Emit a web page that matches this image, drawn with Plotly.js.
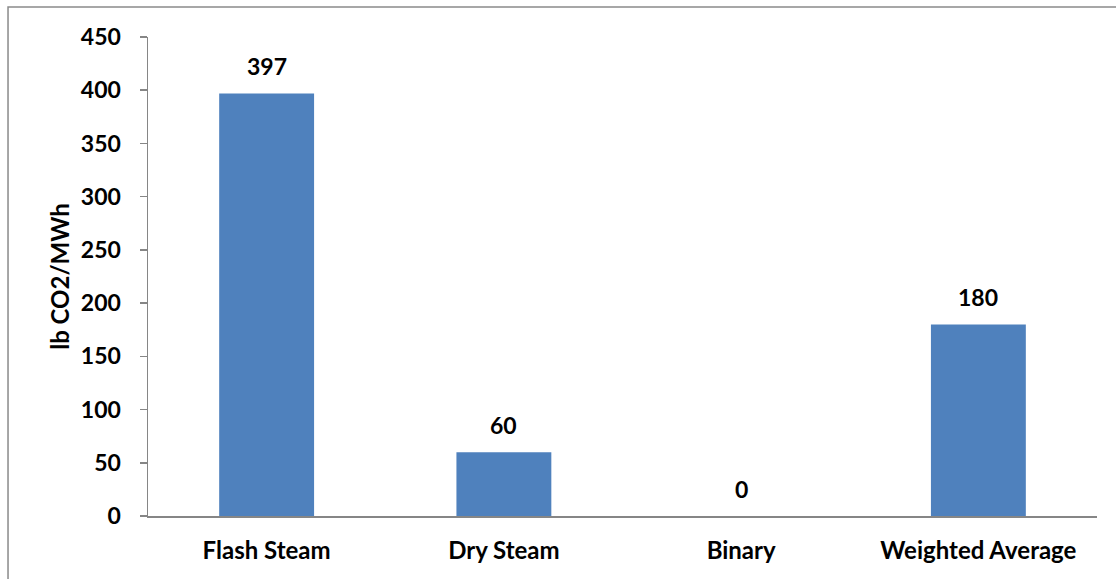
<!DOCTYPE html>
<html>
<head>
<meta charset="utf-8">
<script src="https://cdn.plot.ly/plotly-3.0.1.min.js"></script>
<style>
  html, body { margin: 0; padding: 0; background: #fff; }
  #chart { width: 1116px; height: 579px; }
</style>
</head>
<body>
<div id="chart"></div>
<script>
// CO2 emission rates by geothermal plant type
const categories = ['Flash Steam', 'Dry Steam', 'Binary', 'Weighted Average'];
const emissions = [397, 60, 0, 180];
const yTicks = [0, 50, 100, 150, 200, 250, 300, 350, 400, 450];

const FONT = 'Lato, "Open Sans", "DejaVu Sans", sans-serif';
const axisGrey = '#868686';

const trace = {
  type: 'bar',
  x: categories,
  y: emissions,
  marker: { color: '#4F81BD', line: { width: 0 } },
  hoverinfo: 'x+y'
};

// value labels above each bar
const valueLabels = categories.map((c, i) => ({
  x: c,
  y: emissions[i],
  xref: 'x',
  yref: 'y',
  text: '<b>' + emissions[i] + '</b>',
  showarrow: false,
  yanchor: 'middle',
  yshift: 27,
  font: { family: FONT, size: 23, color: '#000' }
}));

const layout = {
  width: 1116,
  height: 579,
  margin: { l: 148, r: 19, t: 37, b: 63 },
  paper_bgcolor: '#fff',
  plot_bgcolor: '#fff',
  bargap: 0.6,
  showlegend: false,
  font: { family: FONT, color: '#000' },
  xaxis: {
    type: 'category',
    showline: true,
    linecolor: axisGrey,
    linewidth: 1.5,
    ticks: '',
    showgrid: false,
    zeroline: false,
    ticklabelstandoff: 13,
    tickfont: { family: FONT, size: 24, color: '#000', weight: 'bold' }
  },
  yaxis: {
    range: [0, 450],
    tickvals: yTicks,
    ticktext: yTicks.map(String),
    showline: true,
    linecolor: axisGrey,
    linewidth: 1.5,
    ticks: 'outside',
    ticklen: 7,
    tickcolor: axisGrey,
    tickwidth: 1.5,
    showgrid: false,
    zeroline: false,
    ticklabelstandoff: 14,
    tickfont: { family: FONT, size: 23, color: '#000', weight: 'bold' },
    title: {
      text: 'lb CO2/MWh',
      standoff: 4,
      font: { family: FONT, size: 24, color: '#000', weight: 'bold' }
    }
  },
  annotations: valueLabels,
  shapes: [{
    type: 'rect',
    xref: 'paper', yref: 'paper',
    x0: -0.1475, x1: 1.1,
    y0: -0.3, y1: 1.0626,
    line: { color: '#8a8a8a', width: 1.5 },
    fillcolor: 'rgba(0,0,0,0)',
    layer: 'below'
  }]
};

Plotly.newPlot('chart', [trace], layout, { displayModeBar: false, staticPlot: true });
</script>
</body>
</html>
